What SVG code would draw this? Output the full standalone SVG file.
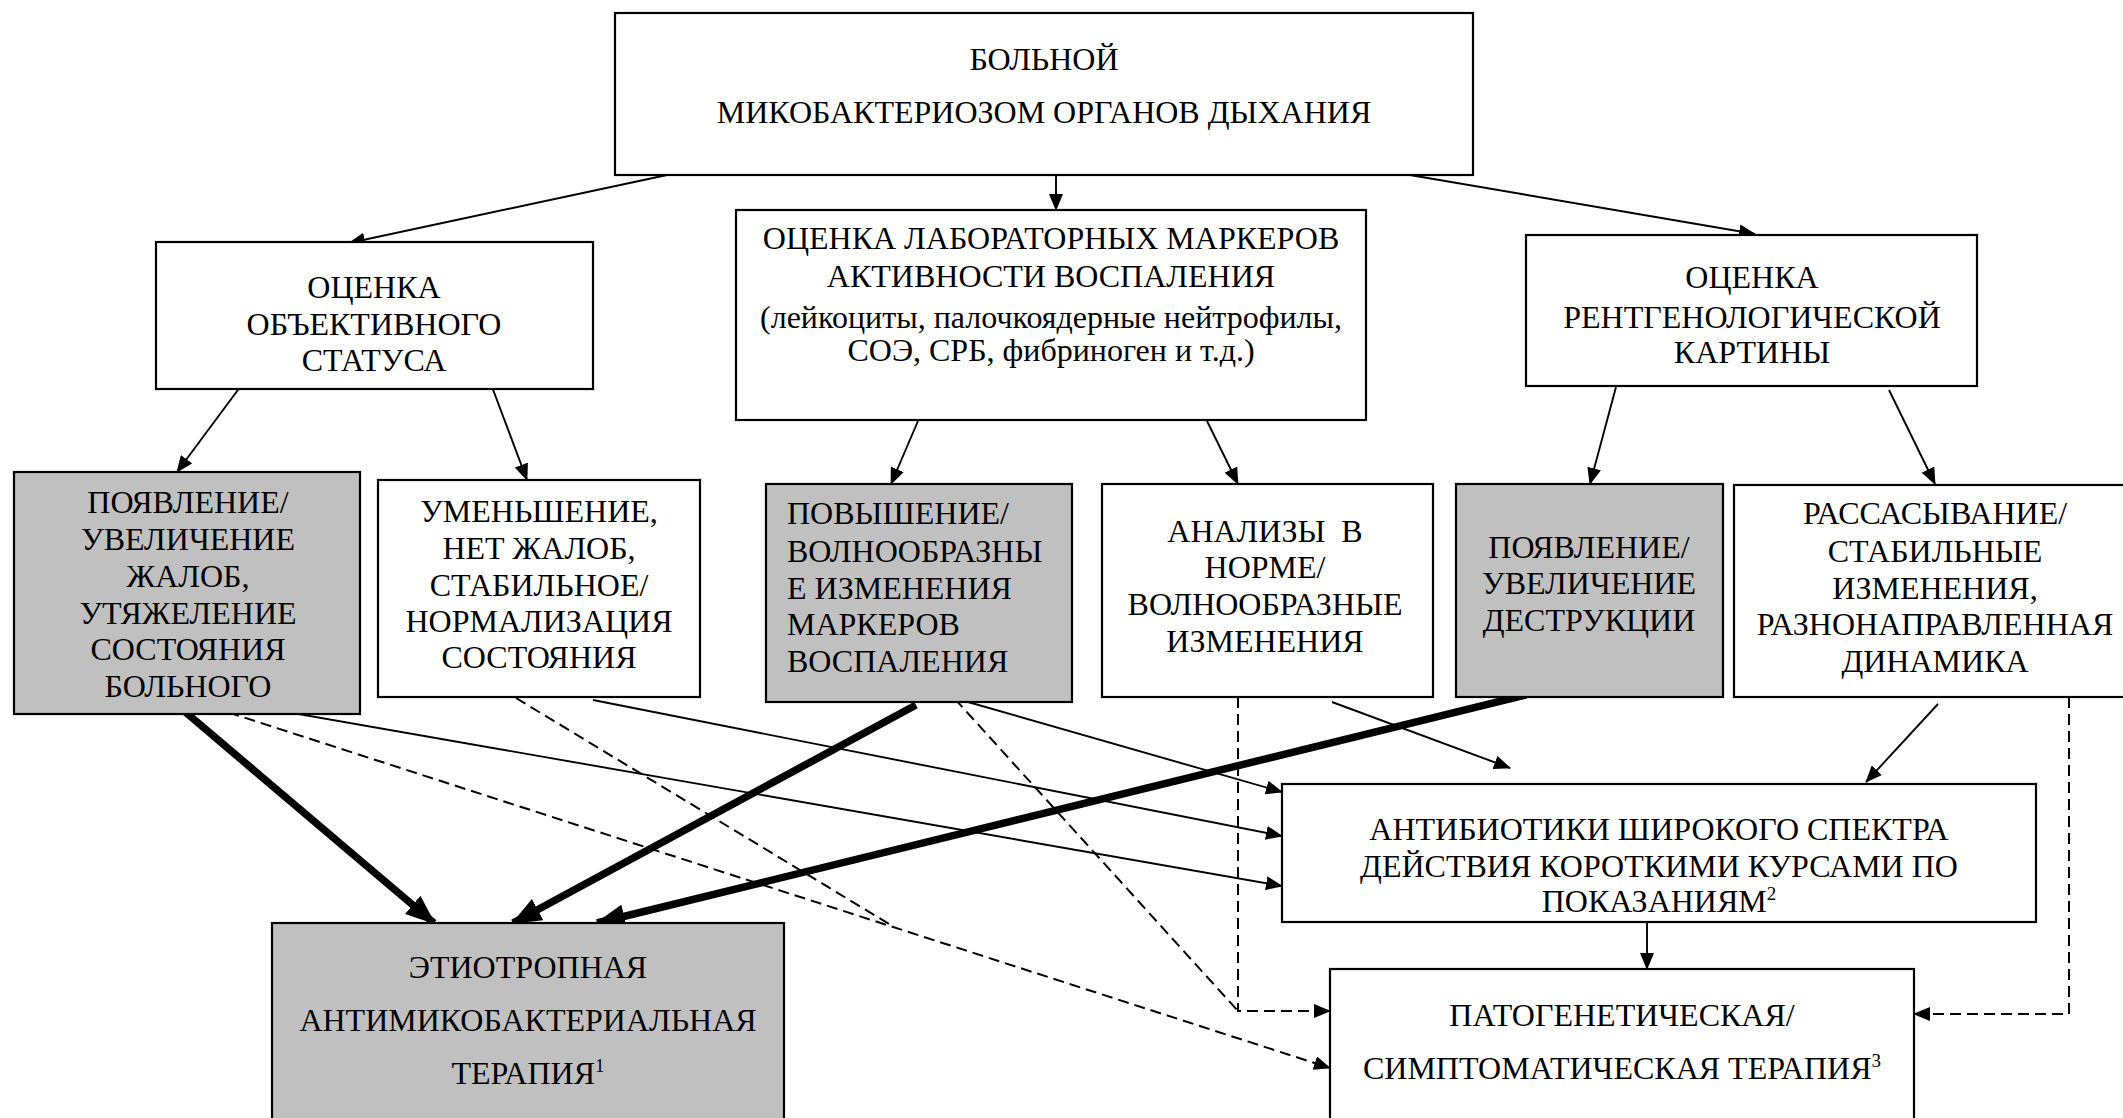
<svg xmlns="http://www.w3.org/2000/svg" width="2123" height="1118" viewBox="0 0 2123 1118">
<style>
.box{fill:#fff;stroke:#000;stroke-width:2.2}
.gray{fill:#c0c0c0;stroke:#000;stroke-width:2.2}
text{font-family:"Liberation Serif","Times New Roman",serif;font-size:32px;fill:#000}
.c{text-anchor:middle}
.sup{font-size:19px}
.ln{fill:none;stroke:#000;stroke-width:1.9}
.th{fill:none;stroke:#000;stroke-width:7.5}
.ds{fill:none;stroke:#000;stroke-width:2;stroke-dasharray:11,6}
</style>
<defs>
<marker id="a" markerUnits="userSpaceOnUse" markerWidth="17" markerHeight="14" refX="16" refY="7" orient="auto"><path d="M0,0 L17,7 L0,14 z"/></marker>
<marker id="ab" markerUnits="userSpaceOnUse" markerWidth="30" markerHeight="24" refX="28" refY="12" orient="auto"><path d="M0,0 L30,12 L0,24 z"/></marker>
</defs>
<rect width="2123" height="1118" fill="#fff"/>
<g id="connectors">
<line class="ln" x1="667" y1="175" x2="349" y2="243" marker-end="url(#a)"/>
<line class="ln" x1="1056" y1="175" x2="1056" y2="210" marker-end="url(#a)"/>
<line class="ln" x1="1410" y1="175" x2="1755" y2="234" marker-end="url(#a)"/>
<line class="ln" x1="252" y1="371" x2="177" y2="472" marker-end="url(#a)"/>
<line class="ln" x1="486" y1="371" x2="527" y2="480" marker-end="url(#a)"/>
<line class="ln" x1="918" y1="421" x2="891" y2="484" marker-end="url(#a)"/>
<line class="ln" x1="1207" y1="421" x2="1238" y2="484" marker-end="url(#a)"/>
<line class="ln" x1="1616" y1="387" x2="1590" y2="484" marker-end="url(#a)"/>
<line class="ln" x1="1889" y1="390" x2="1935" y2="484" marker-end="url(#a)"/>
<line class="th" x1="177" y1="705" x2="434" y2="923" marker-end="url(#ab)"/>
<line class="th" x1="916" y1="705" x2="513" y2="923" marker-end="url(#ab)"/>
<line class="th" x1="1526" y1="695" x2="597" y2="923" marker-end="url(#ab)"/>
<line class="ln" x1="230" y1="702" x2="1282" y2="886" marker-end="url(#a)"/>
<line class="ln" x1="593" y1="700" x2="1282" y2="836" marker-end="url(#a)"/>
<line class="ln" x1="968" y1="702" x2="1282" y2="792" marker-end="url(#a)"/>
<line class="ln" x1="1332" y1="702" x2="1510" y2="768" marker-end="url(#a)"/>
<line class="ln" x1="1938" y1="704" x2="1866" y2="782" marker-end="url(#a)"/>
<line class="ln" x1="1647" y1="922" x2="1647" y2="969" marker-end="url(#a)"/>
<line class="ds" x1="196" y1="702" x2="1330" y2="1068" marker-end="url(#a)"/>
<line class="ds" x1="516" y1="698" x2="894" y2="927"/>
<line class="ds" x1="955" y1="699" x2="1238" y2="1011"/>
<polyline class="ds" points="1238,697 1238,1011 1330,1011" marker-end="url(#a)"/>
<polyline class="ds" points="2069,697 2069,1014 1914,1014" marker-end="url(#a)"/>
</g>
<g id="n1"><rect class="box" x="615" y="13" width="858" height="162"/>
<text class="c" x="1044" y="70">БОЛЬНОЙ</text>
<text class="c" x="1044" y="123">МИКОБАКТЕРИОЗОМ ОРГАНОВ ДЫХАНИЯ</text></g>
<g id="n2"><rect class="box" x="156" y="242" width="437" height="147"/>
<text class="c" x="374" y="298">ОЦЕНКА</text>
<text class="c" x="374" y="335">ОБЪЕКТИВНОГО</text>
<text class="c" x="374" y="371">СТАТУСА</text></g>
<g id="n3"><rect class="box" x="736" y="210" width="630" height="210"/>
<text class="c" x="1051" y="249">ОЦЕНКА ЛАБОРАТОРНЫХ МАРКЕРОВ</text>
<text class="c" x="1051" y="287">АКТИВНОСТИ ВОСПАЛЕНИЯ</text>
<text class="c" x="1051" y="328">(лейкоциты, палочкоядерные нейтрофилы,</text>
<text class="c" x="1051" y="361">СОЭ, СРБ, фибриноген и т.д.)</text></g>
<g id="n4"><rect class="box" x="1526" y="235" width="451" height="151"/>
<text class="c" x="1752" y="288">ОЦЕНКА</text>
<text class="c" x="1752" y="328">РЕНТГЕНОЛОГИЧЕСКОЙ</text>
<text class="c" x="1752" y="363">КАРТИНЫ</text></g>
<g id="n5"><rect class="gray" x="14" y="472" width="346" height="242"/>
<text class="c" x="188" y="513">ПОЯВЛЕНИЕ/</text>
<text class="c" x="188" y="550">УВЕЛИЧЕНИЕ</text>
<text class="c" x="188" y="587">ЖАЛОБ,</text>
<text class="c" x="188" y="624">УТЯЖЕЛЕНИЕ</text>
<text class="c" x="188" y="660">СОСТОЯНИЯ</text>
<text class="c" x="188" y="697">БОЛЬНОГО</text></g>
<g id="n6"><rect class="box" x="378" y="480" width="322" height="217"/>
<text class="c" x="539" y="522">УМЕНЬШЕНИЕ,</text>
<text class="c" x="539" y="559">НЕТ ЖАЛОБ,</text>
<text class="c" x="539" y="596">СТАБИЛЬНОЕ/</text>
<text class="c" x="539" y="632">НОРМАЛИЗАЦИЯ</text>
<text class="c" x="539" y="668">СОСТОЯНИЯ</text></g>
<g id="n7"><rect class="gray" x="766" y="484" width="306" height="218"/>
<text x="787" y="524">ПОВЫШЕНИЕ/</text>
<text x="787" y="562">ВОЛНООБРАЗНЫ</text>
<text x="787" y="599">Е ИЗМЕНЕНИЯ</text>
<text x="787" y="635">МАРКЕРОВ</text>
<text x="787" y="672">ВОСПАЛЕНИЯ</text></g>
<g id="n8"><rect class="box" x="1102" y="484" width="331" height="213"/>
<text class="c" x="1265" y="542" xml:space="preserve">АНАЛИЗЫ  В</text>
<text class="c" x="1265" y="578">НОРМЕ/</text>
<text class="c" x="1265" y="615">ВОЛНООБРАЗНЫЕ</text>
<text class="c" x="1265" y="652">ИЗМЕНЕНИЯ</text></g>
<g id="n9"><rect class="gray" x="1456" y="484" width="267" height="213"/>
<text class="c" x="1589" y="558">ПОЯВЛЕНИЕ/</text>
<text class="c" x="1589" y="594">УВЕЛИЧЕНИЕ</text>
<text class="c" x="1589" y="631">ДЕСТРУКЦИИ</text></g>
<g id="n10"><rect class="box" x="1734" y="485" width="402" height="212"/>
<text class="c" x="1935" y="524">РАССАСЫВАНИЕ/</text>
<text class="c" x="1935" y="562">СТАБИЛЬНЫЕ</text>
<text class="c" x="1935" y="599">ИЗМЕНЕНИЯ,</text>
<text class="c" x="1935" y="635">РАЗНОНАПРАВЛЕННАЯ</text>
<text class="c" x="1935" y="672">ДИНАМИКА</text></g>
<g id="n11"><rect class="gray" x="272" y="923" width="512" height="210"/>
<text class="c" x="528" y="978">ЭТИОТРОПНАЯ</text>
<text class="c" x="528" y="1031">АНТИМИКОБАКТЕРИАЛЬНАЯ</text>
<text class="c" x="528" y="1084">ТЕРАПИЯ<tspan class="sup" dy="-12">1</tspan></text></g>
<g id="n12"><rect class="box" x="1282" y="784" width="754" height="138"/>
<text class="c" x="1659" y="840">АНТИБИОТИКИ ШИРОКОГО СПЕКТРА</text>
<text class="c" x="1659" y="877">ДЕЙСТВИЯ КОРОТКИМИ КУРСАМИ ПО</text>
<text class="c" x="1659" y="912">ПОКАЗАНИЯМ<tspan class="sup" dy="-12">2</tspan></text></g>
<g id="n13"><rect class="box" x="1330" y="969" width="584" height="170"/>
<text class="c" x="1622" y="1026">ПАТОГЕНЕТИЧЕСКАЯ/</text>
<text class="c" x="1622" y="1079">СИМПТОМАТИЧЕСКАЯ ТЕРАПИЯ<tspan class="sup" dy="-12">3</tspan></text></g>
</svg>
